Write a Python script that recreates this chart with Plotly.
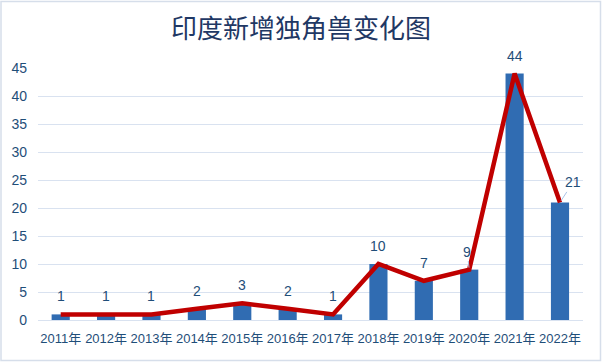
import plotly.graph_objects as go

years = ["2011年", "2012年", "2013年", "2014年", "2015年", "2016年",
         "2017年", "2018年", "2019年", "2020年", "2021年", "2022年"]
counts = [1, 1, 1, 2, 3, 2, 1, 10, 7, 9, 44, 21]
y_ticks = [0, 5, 10, 15, 20, 25, 30, 35, 40, 45]

W, H = 602, 362
ml, mr, mt, mb = 38, 19, 68, 42

fig = go.Figure()
fig.add_trace(go.Bar(
    x=years, y=counts, width=0.4,
    marker=dict(color="#306CB2", line=dict(width=0)),
))
fig.add_trace(go.Scatter(
    x=years, y=counts, mode="lines",
    line=dict(color="#C00000", width=4.5),
))

label_font = dict(size=14, color="#1F4E79", family="Liberation Sans, Arial")
for yr, v in zip(years, counts):
    if yr == "2022年":
        fig.add_annotation(x=yr, y=v, text=str(v), showarrow=True, arrowhead=0,
                           arrowwidth=1, arrowcolor="#A9C4E8", ax=13, ay=-20,
                           standoff=2, font=label_font)
    elif yr == "2020年":
        fig.add_annotation(x=yr, y=v, text=str(v), showarrow=True, arrowhead=0,
                           arrowwidth=1, arrowcolor="#A9C4E8", ax=-2, ay=-18,
                           standoff=2, font=label_font)
    else:
        fig.add_annotation(x=yr, y=v, text=str(v), showarrow=False, yshift=18,
                           font=label_font)

pw = W - ml - mr
ph = H - mt - mb
fig.add_shape(type="rect", xref="paper", yref="paper",
              x0=(1 - ml) / pw, x1=(W - 1.5 - ml) / pw,
              y0=-(mb - 1.5) / ph, y1=1 + (mt - 1.5) / ph,
              line=dict(color="#D6DEEA", width=1.5), fillcolor="rgba(0,0,0,0)")

fig.update_layout(
    width=W, height=H,
    margin=dict(l=ml, r=mr, t=mt, b=mb, autoexpand=False),
    paper_bgcolor="white", plot_bgcolor="white",
    showlegend=False,
    bargap=0.6,
    title=dict(text="印度新增独角兽变化图", x=0.5, xanchor="center",
               y=1 - 29 / H, yanchor="middle", automargin=False,
               font=dict(size=26, color="#1F3864", family="Noto Sans CJK SC")),
    xaxis=dict(showgrid=False, showline=True, linecolor="#D9E2F0", linewidth=1,
               ticks="", automargin=False, tickangle=0,
               tickfont=dict(size=13, color="#1F4E79", family="Liberation Sans, Noto Sans CJK SC"),
               ticklabelstandoff=6, fixedrange=True),
    yaxis=dict(range=[0, 45], tickvals=y_ticks, showgrid=True, gridcolor="#D9E2F0",
               gridwidth=1, zeroline=False, showline=False, ticks="", automargin=False,
               tickfont=dict(size=14, color="#1F4E79", family="Liberation Sans, Arial"),
               ticklabelstandoff=10),
)

fig.write_html("out.html", config={"displayModeBar": False},
               post_script="document.body.style.margin='0';")
